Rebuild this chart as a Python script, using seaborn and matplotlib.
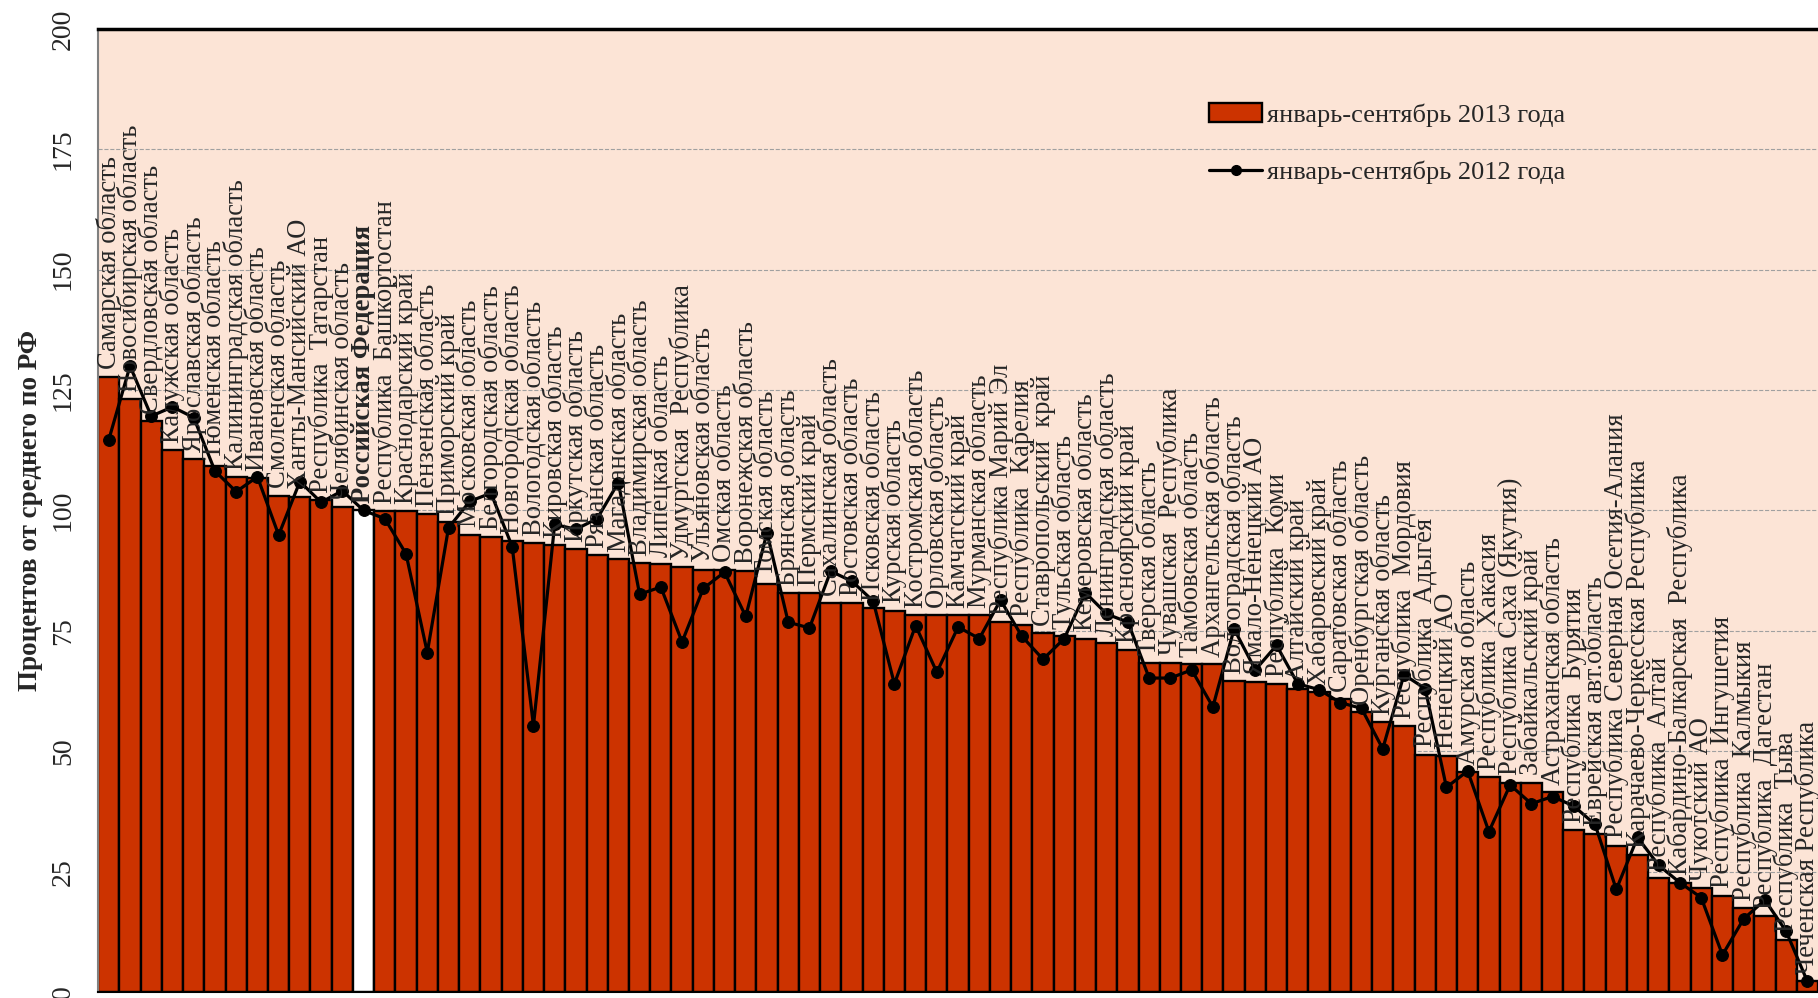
import numpy as np
import pandas as pd
import seaborn as sns
import matplotlib.pyplot as plt
from matplotlib.patches import Patch
from matplotlib.lines import Line2D

# ===================================================================
# данные
# ===================================================================

regions = [
    'Самарская область', 'Новосибирская область', 'Свердловская область',
    'Калужская область', 'Ярославская область', 'Тюменская область',
    'Калининградская область', 'Ивановская область', 'Смоленская область',
    'Ханты-Мансийский АО', 'Республика  Татарстан', 'Челябинская область',
    'Российская Федерация', 'Республика  Башкортостан', 'Краснодарский край',
    'Пензенская область', 'Приморский край', 'Московская область',
    'Белгородская область', 'Новгородская область', 'Вологодская область',
    'Кировская область', 'Иркутская область', 'Рязанская область',
    'Магаданская область', 'Владимирская область', 'Липецкая область',
    'Удмуртская  Республика', 'Ульяновская область', 'Омская область',
    'Воронежская область', 'Томская область', 'Брянская область',
    'Пермский край', 'Сахалинская область', 'Ростовская область',
    'Псковская область', 'Курская область', 'Костромская область',
    'Орловская область', 'Камчатский край', 'Мурманская область',
    'Республика Марий Эл', 'Республика  Карелия', 'Ставропольский  край',
    'Тульская область', 'Кемеровская область', 'Ленинградская область',
    'Красноярский край', 'Тверская область', 'Чувашская  Республика',
    'Тамбовская область', 'Архангельская область', 'Волгоградская область',
    'Ямало-Ненецкий АО', 'Республика  Коми', 'Алтайский край',
    'Хабаровский край', 'Саратовская область', 'Оренбургская область',
    'Курганская область', 'Республика  Мордовия', 'Республика  Адыгея',
    'Ненецкий АО', 'Амурская область', 'Республика  Хакасия',
    'Республика Саха (Якутия)', 'Забайкальский край', 'Астраханская область',
    'Республика  Бурятия', 'Еврейская авт.область',
    'Республика Северная Осетия-Алания', 'Карачаево-Черкесская Республика',
    'Республика  Алтай', 'Кабардино-Балкарская  Республика', 'Чукотский АО',
    'Республика  Ингушетия', 'Республика  Калмыкия', 'Республика  Дагестан',
    'Республика  Тыва', 'Чеченская Республика',
]

# январь-сентябрь 2013 года, % от среднего по РФ
v2013 = [
    127.8, 123.2, 118.6, 112.6, 110.6, 109.2, 107.0, 106.8, 103.1, 102.9,
    102.2, 100.7, 100.0, 99.8, 99.8, 99.3, 97.6, 95.0, 94.4, 93.7,
    93.2, 92.8, 92.0, 90.8, 89.9, 89.1, 88.9, 88.2, 87.7, 87.7,
    87.4, 84.8, 82.9, 82.9, 80.7, 80.7, 79.7, 79.2, 78.3, 78.3,
    78.3, 78.3, 76.8, 76.3, 74.6, 73.9, 73.4, 72.5, 71.0, 68.4,
    68.4, 68.1, 68.1, 64.5, 64.3, 64.0, 63.0, 62.3, 60.9, 58.2,
    56.0, 55.3, 49.3, 49.0, 45.7, 44.7, 43.5, 43.5, 41.5, 33.6,
    32.9, 30.4, 28.5, 23.7, 22.7, 21.5, 20.0, 17.4, 15.7, 10.9,
    2.2,
]

# январь-сентябрь 2012 года
v2012 = [
    114.7, 130.0, 119.6, 121.5, 119.3, 108.2, 103.9, 107.0, 94.9, 106.0,
    101.7, 104.1, 100.0, 98.3, 91.0, 70.5, 96.4, 101.9, 103.6, 92.5,
    55.3, 97.1, 96.1, 98.3, 105.8, 82.6, 84.1, 72.7, 83.8, 87.2,
    78.0, 95.4, 76.8, 75.6, 87.4, 85.3, 81.2, 64.0, 76.1, 66.4,
    75.8, 73.4, 81.4, 73.9, 69.1, 73.4, 82.9, 78.5, 76.8, 65.2,
    65.2, 66.9, 59.2, 75.4, 66.9, 72.0, 64.0, 62.8, 60.1, 58.9,
    50.5, 65.9, 63.0, 42.5, 45.9, 33.3, 43.0, 39.1, 40.6, 38.6,
    34.8, 21.3, 32.1, 26.3, 22.7, 19.6, 7.7, 15.2, 19.1, 12.6,
    2.2,
]

yticks = [0, 25, 50, 75, 100, 125, 150, 175, 200]

bar_color = '#CC3300'
bg_color = '#FCE4D6'

df = pd.DataFrame({'region': regions, 'v2013': v2013, 'v2012': v2012})
palette = {r: ('white' if r == 'Российская Федерация' else bar_color) for r in regions}

# ===================================================================
# график
# ===================================================================
sns.set_style('white')
plt.rcParams['font.family'] = ['Liberation Serif', 'DejaVu Serif']

fig = plt.figure(figsize=(18.18, 9.98), dpi=100)
ax = fig.add_axes([0.054, 0.006, 0.946, 0.965])
ax.set_facecolor(bg_color)

sns.barplot(data=df, x='region', y='v2013', hue='region', palette=palette,
            order=regions, hue_order=regions, width=1.0, dodge=False,
            legend=False, edgecolor='black', linewidth=1.7, saturation=1,
            ax=ax)

sns.lineplot(x=np.arange(len(regions)), y=df['v2012'], color='black',
             linewidth=2.3, marker='o', markersize=8.5, markeredgecolor='black',
             ax=ax)

# подписи регионов над столбцами
for i, (name, val) in enumerate(zip(regions, v2013)):
    weight = 'bold' if name == 'Российская Федерация' else 'normal'
    ax.text(i, val + 1.5, name, rotation=90, ha='center', va='bottom',
            fontsize=19.2, fontweight=weight, zorder=5)

ax.set_xlim(-0.5, len(regions) - 0.5)
ax.set_ylim(0, 200)
ax.set_xticks([])
ax.set_xlabel('')
ax.set_yticks(yticks)
ax.set_yticklabels([str(t) for t in yticks], rotation=90, va='center', fontsize=20)
ax.tick_params(axis='y', direction='out', length=8, width=1.2, color='#808080', pad=8)
ax.set_ylabel('Процентов от среднего по РФ', fontsize=19.5, fontweight='bold', labelpad=6)

for t in yticks[1:-1]:
    ax.axhline(t, color='#A0A0A0', linestyle='--', linewidth=0.8, zorder=0.5)

ax.spines['left'].set_color('#808080')
ax.spines['left'].set_linewidth(1.5)
ax.spines['top'].set_color('black')
ax.spines['top'].set_linewidth(2.5)
ax.spines['right'].set_visible(False)
ax.spines['bottom'].set_color('black')
ax.spines['bottom'].set_linewidth(1.5)

handles = [
    Patch(facecolor=bar_color, edgecolor='black', linewidth=1.7),
    Line2D([0], [0], color='black', linewidth=2.3, marker='o', markersize=7),
]
labels = ['январь-сентябрь 2013 года', 'январь-сентябрь 2012 года']
ax.legend(handles, labels, loc='upper left', bbox_to_anchor=(0.64, 0.934),
          frameon=False, fontsize=19, labelspacing=1.3, handlelength=2.0,
          handletextpad=0.2, borderaxespad=0)

fig.savefig('out.png', dpi=100)
